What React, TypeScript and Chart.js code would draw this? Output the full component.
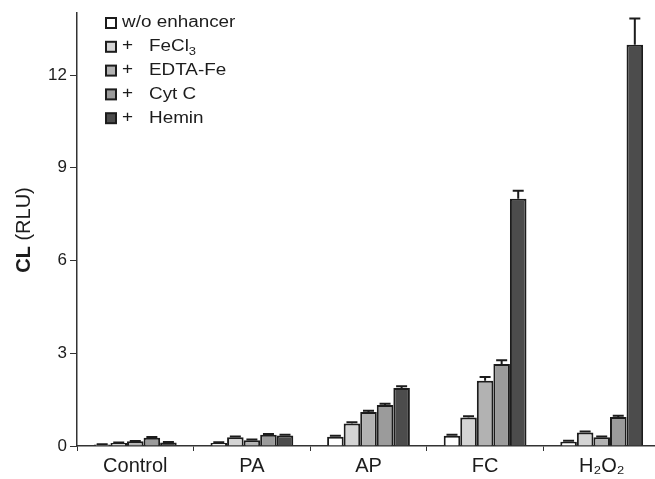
import React, { useEffect, useRef } from 'react';
import { Chart, registerables } from 'chart.js';

Chart.register(...registerables);

const categories = ['Control', 'PA', 'AP', 'FC', 'H₂O₂'];
const seriesNames = ['w/o enhancer', 'FeCl', 'EDTA-Fe', 'Cyt C', 'Hemin'];
const seriesColors = ['#ffffff', '#d4d4d4', '#b2b2b2', '#9b9b9b', '#4c4c4c'];

const woEnhancer = [0.05, 0.1, 0.3, 0.33, 0.14];
const feCl3 = [0.1, 0.28, 0.73, 0.92, 0.44];
const edtaFe = [0.15, 0.19, 1.1, 2.11, 0.28];
const cytC = [0.27, 0.36, 1.33, 2.65, 0.94];
const hemin = [0.11, 0.34, 1.88, 8.0, 12.98];

const woEnhancerErr = [0.01, 0.02, 0.03, 0.03, 0.03];
const feCl3Err = [0.01, 0.03, 0.04, 0.04, 0.03];
const edtaFeErr = [0.01, 0.02, 0.04, 0.12, 0.03];
const cytCErr = [0.02, 0.03, 0.04, 0.12, 0.04];
const heminErr = [0.02, 0.02, 0.05, 0.26, 0.85];

const yTicks = [0, 3, 6, 9, 12];

const seriesValues = [woEnhancer, feCl3, edtaFe, cytC, hemin];
const seriesErrors = [woEnhancerErr, feCl3Err, edtaFeErr, cytCErr, heminErr];

const FONT = '"Liberation Sans", Arial, sans-serif';
const INK = '#1c1c1c';

const errorBarPlugin = {
  id: 'errorBars',
  afterDatasetsDraw(chart: any) {
    const ctx = chart.ctx;
    const y = chart.scales.y;
    chart.data.datasets.forEach((ds: any, i: number) => {
      const meta = chart.getDatasetMeta(i);
      meta.data.forEach((bar: any, j: number) => {
        const v = ds.data[j];
        const e = seriesErrors[i][j];
        const yv = y.getPixelForValue(v);
        const yt = y.getPixelForValue(v + e);
        ctx.save();
        ctx.strokeStyle = INK;
        ctx.lineWidth = 2;
        ctx.beginPath();
        ctx.moveTo(bar.x, yv);
        ctx.lineTo(bar.x, yt);
        ctx.moveTo(bar.x - 5.5, yt);
        ctx.lineTo(bar.x + 5.5, yt);
        ctx.stroke();
        ctx.restore();
      });
    });
  },
};

const legendPlugin = {
  id: 'customLegend',
  afterDraw(chart: any) {
    const ctx = chart.ctx;
    ctx.save();
    ctx.textBaseline = 'middle';
    ctx.fillStyle = INK;
    const sx = 1.18;
    const drawText = (txt: string, x: number, y: number, size: number) => {
      ctx.save();
      ctx.translate(x, y);
      ctx.scale(sx, 1);
      ctx.font = `${size}px ${FONT}`;
      ctx.fillStyle = INK;
      ctx.fillText(txt, 0, 0);
      const w = ctx.measureText(txt).width * sx;
      ctx.restore();
      return w;
    };
    seriesNames.forEach((name, k) => {
      const cy = 23 + k * 23.8;
      ctx.fillStyle = seriesColors[k];
      ctx.fillRect(106, cy - 5, 10, 10);
      ctx.strokeStyle = INK;
      ctx.lineWidth = 2;
      ctx.strokeRect(106, cy - 5, 10, 10);
      if (k === 0) {
        drawText(name, 122, cy, 16);
      } else {
        drawText('+', 122, cy - 1, 16);
        const w = drawText(name, 149, cy, 16);
        if (k === 1) drawText('3', 149 + w, cy + 5, 11);
      }
    });
    // y-axis title
    ctx.save();
    ctx.translate(24, 230);
    ctx.rotate(-Math.PI / 2);
    ctx.textBaseline = 'middle';
    ctx.fillStyle = INK;
    ctx.font = `bold 20px ${FONT}`;
    const a = 'CL';
    const b = ' (RLU)';
    const wa = ctx.measureText(a).width;
    ctx.font = `20px ${FONT}`;
    const wb = ctx.measureText(b).width;
    const start = -(wa + wb) / 2;
    ctx.font = `bold 20px ${FONT}`;
    ctx.fillText(a, start, 0);
    ctx.font = `20px ${FONT}`;
    ctx.fillText(b, start + wa, 0);
    ctx.restore();
    ctx.restore();
  },
};

export default function App() {
  const ref = useRef<HTMLCanvasElement | null>(null);

  useEffect(() => {
    if (!ref.current) return;
    const chart = new Chart(ref.current, {
      type: 'bar',
      data: {
        labels: categories,
        datasets: seriesNames.map((name, i) => ({
          label: name,
          data: seriesValues[i],
          backgroundColor: seriesColors[i],
          borderColor: INK,
          borderWidth: 2,
          borderSkipped: 'bottom',
          categoryPercentage: 0.71,
          barPercentage: 1.0,
        })),
      },
      options: {
        animation: false,
        responsive: false,
        devicePixelRatio: 1,
        layout: { padding: { top: 10, left: 0, right: 0, bottom: 0 } },
        plugins: {
          legend: { display: false },
          tooltip: { enabled: false },
          title: { display: false },
        },
        scales: {
          x: {
            afterFit: (s: any) => {
              s.height = 33;
            },
            grid: {
              offset: true,
              drawOnChartArea: false,
              drawTicks: true,
              tickLength: 5,
              color: '#333',
              lineWidth: 1,
            },
            border: { color: '#333', width: 1.5 },
            ticks: {
              font: { family: FONT, size: 20 },
              color: INK,
              padding: 3,
            },
          },
          y: {
            min: 0,
            max: 14,
            afterFit: (s: any) => {
              s.width = 77;
            },
            afterBuildTicks: (s: any) => {
              s.ticks = yTicks.map((v) => ({ value: v }));
            },
            grid: {
              drawOnChartArea: false,
              drawTicks: true,
              tickLength: 7,
              color: '#333',
              lineWidth: 1,
            },
            border: { color: '#333', width: 1.5 },
            ticks: {
              stepSize: 3,
              font: { family: FONT, size: 17 },
              color: INK,
              padding: 3,
            },
          },
        },
      },
      plugins: [errorBarPlugin, legendPlugin],
    });
    return () => chart.destroy();
  }, []);

  return (
    <div style={{ position: 'fixed', left: 0, top: 0, width: 660, height: 479, overflow: 'hidden', background: '#fff' }}>
      <canvas ref={ref} width={660} height={479} style={{ display: 'block' }} />
    </div>
  );
}
